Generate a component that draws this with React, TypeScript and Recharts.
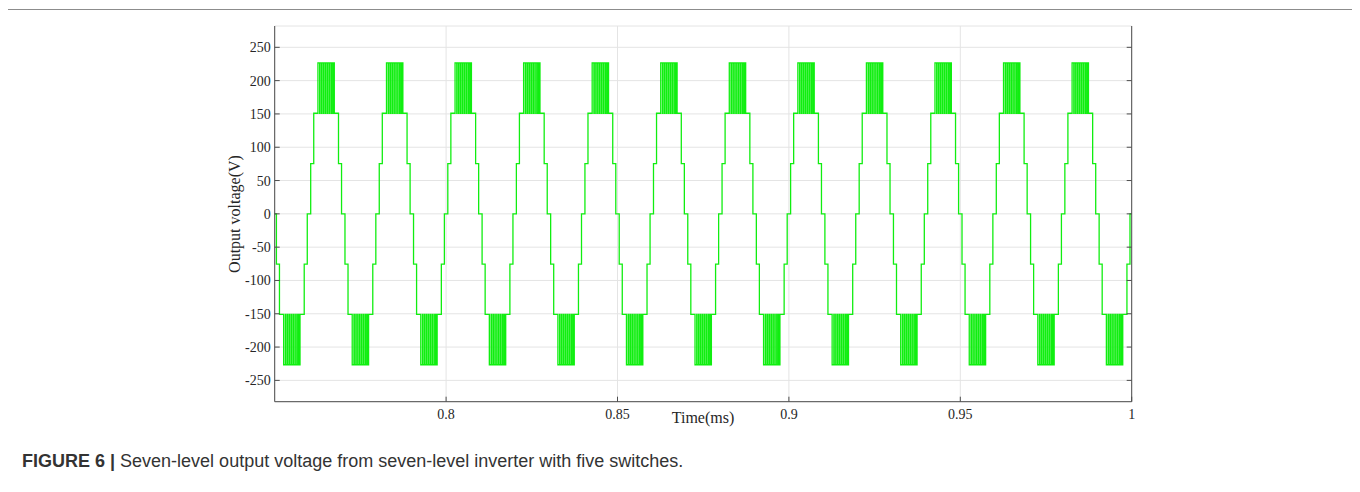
import { LineChart, Line, XAxis, YAxis, CartesianGrid } from 'recharts';

const X_TICKS = [0.8, 0.85, 0.9, 0.95, 1];
const Y_TICKS = [-250, -200, -150, -100, -50, 0, 50, 100, 150, 200, 250];
const X_DOMAIN = [0.75, 1];
const Y_DOMAIN = [-282, 282];

// one period of the seven-level waveform:
// switching angle (deg after the rising zero crossing) and the level it goes to
const PERIOD = 0.02;
const FIRST_RISING_ZERO = 0.76;
const CYCLE_ANGLES = [
  9, 25, 47, 56, 58, 66, 68, 76, 78, 86, 88, 96, 98, 106, 108, 116, 118, 125, 127, 133, 155, 171,
  189, 205, 227, 236, 238, 246, 248, 256, 258, 266, 268, 276, 278, 286, 288, 296, 298, 305, 307, 313, 335, 351,
];
const CYCLE_LEVELS = [
  75.5, 151, 226.5, 151, 226.5, 151, 226.5, 151, 226.5, 151, 226.5, 151, 226.5, 151, 226.5, 151, 226.5, 151, 226.5, 151, 75.5, 0,
  -75.5, -151, -226.5, -151, -226.5, -151, -226.5, -151, -226.5, -151, -226.5, -151, -226.5, -151, -226.5, -151, -226.5, -151, -226.5, -151, -75.5, 0,
];

const data: { t: number; v: number }[] = [{ t: 0.74, v: 0 }];
for (let k = -1; k <= 12; k++) {
  const t0 = FIRST_RISING_ZERO + k * PERIOD;
  CYCLE_ANGLES.forEach((a, i) => {
    const t = t0 + (a / 360) * PERIOD;
    if (t > 0.74 && t < 1.01) data.push({ t, v: CYCLE_LEVELS[i] });
  });
}

const AXIS = '#4d4d4d';
const SERIF = "'Liberation Serif', 'Times New Roman', serif";
const TICK_LEN = 5;

const BottomTick = ({ x, y, payload }: any) => (
  <g>
    <line x1={x} y1={y} x2={x} y2={y - TICK_LEN} stroke={AXIS} />
    <text x={x} y={y + 17} textAnchor="middle" fontFamily={SERIF} fontSize={14} fill="#262626">
      {payload.value}
    </text>
  </g>
);

const LeftTick = ({ x, y, payload }: any) => (
  <g>
    <line x1={x} y1={y} x2={x + TICK_LEN} y2={y} stroke={AXIS} />
    <text x={x - 4} y={y + 5} textAnchor="end" fontFamily={SERIF} fontSize={14} fill="#262626">
      {payload.value}
    </text>
  </g>
);

const TopTick = ({ x, y }: any) => <line x1={x} y1={y} x2={x} y2={y + TICK_LEN} stroke={AXIS} />;
const RightTick = ({ x, y }: any) => <line x1={x} y1={y} x2={x - TICK_LEN} y2={y} stroke={AXIS} />;

export default function App() {
  return (
    <div style={{ position: 'relative', width: 1344, height: 484 }}>
      <div
        style={{
          position: 'absolute',
          left: -1,
          top: 1,
          width: 1346,
          height: 500,
          border: '1px solid #8c8c8c',
          borderBottom: 'none',
        }}
      />
      <div style={{ position: 'absolute', left: 0, top: 0 }}>
        <LineChart
          width={1344}
          height={480}
          data={data}
          margin={{ top: 18, right: 219.3, bottom: 56.3, left: 206.7 }}
        >
          <CartesianGrid stroke="#e4e4e4" />
          <XAxis
            xAxisId={0}
            dataKey="t"
            type="number"
            domain={X_DOMAIN}
            ticks={X_TICKS}
            allowDataOverflow
            height={30}
            tickSize={0}
            tickMargin={0}
            tickLine={false}
            axisLine={{ stroke: AXIS }}
            tick={<BottomTick />}
          />
          <XAxis
            xAxisId="top"
            orientation="top"
            dataKey="t"
            type="number"
            domain={X_DOMAIN}
            ticks={X_TICKS}
            allowDataOverflow
            height={0}
            tickSize={0}
            tickMargin={0}
            tickLine={false}
            axisLine={{ stroke: AXIS }}
            tick={<TopTick />}
          />
          <YAxis
            yAxisId={0}
            type="number"
            domain={Y_DOMAIN}
            ticks={Y_TICKS}
            allowDataOverflow
            width={60}
            tickSize={0}
            tickMargin={0}
            tickLine={false}
            axisLine={{ stroke: AXIS }}
            tick={<LeftTick />}
          />
          <YAxis
            yAxisId="right"
            orientation="right"
            type="number"
            domain={Y_DOMAIN}
            ticks={Y_TICKS}
            allowDataOverflow
            width={1}
            tickSize={0}
            tickMargin={0}
            tickLine={false}
            axisLine={{ stroke: AXIS }}
            tick={<RightTick />}
          />
          <Line
            xAxisId={0}
            yAxisId={0}
            type="stepAfter"
            dataKey="v"
            stroke="#10ee10"
            strokeWidth={1.3}
            dot={false}
            isAnimationActive={false}
          />
        </LineChart>
      </div>
      <div
        style={{
          position: 'absolute',
          left: 227,
          top: 206,
          transform: 'translate(-50%, -50%) rotate(-90deg)',
          fontFamily: SERIF,
          fontSize: 16,
          color: '#262626',
          whiteSpace: 'nowrap',
        }}
      >
        Output voltage(V)
      </div>
      <div
        style={{
          position: 'absolute',
          left: 695,
          top: 410,
          transform: 'translate(-50%, -50%)',
          fontFamily: SERIF,
          fontSize: 16,
          color: '#262626',
          whiteSpace: 'nowrap',
        }}
      >
        Time(ms)
      </div>
      <div
        style={{
          position: 'absolute',
          left: 14,
          top: 443,
          fontFamily: "'Liberation Sans', Arial, sans-serif",
          fontSize: 18,
          color: '#333',
          whiteSpace: 'nowrap',
        }}
      >
        <b>FIGURE 6 |</b> Seven-level output voltage from seven-level inverter with five switches.
      </div>
    </div>
  );
}
